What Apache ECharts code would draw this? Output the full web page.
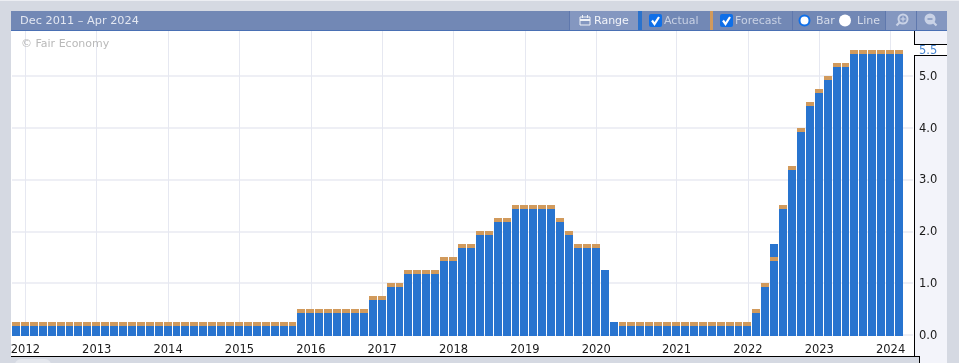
<!DOCTYPE html>
<html>
<head>
<meta charset="utf-8">
<style>
  html, body { margin: 0; padding: 0; background: #d5d9e2; }
  #chart { width: 959px; height: 363px; }
</style>
<script src="https://cdn.jsdelivr.net/npm/echarts@6/dist/echarts.min.js"></script>
</head>
<body>
<div id="chart"></div>
<script>
// fomc meetings, one bar per meeting
const meetings = [
  '2011-12',
  '2012-01','2012-03','2012-04','2012-06','2012-08','2012-09','2012-10','2012-12',
  '2013-01','2013-03','2013-05','2013-06','2013-07','2013-09','2013-10','2013-12',
  '2014-01','2014-03','2014-04','2014-06','2014-07','2014-09','2014-10','2014-12',
  '2015-01','2015-03','2015-04','2015-06','2015-07','2015-09','2015-10','2015-12',
  '2016-01','2016-03','2016-04','2016-06','2016-07','2016-09','2016-11','2016-12',
  '2017-02','2017-03','2017-05','2017-06','2017-07','2017-09','2017-11','2017-12',
  '2018-01','2018-03','2018-05','2018-06','2018-08','2018-09','2018-11','2018-12',
  '2019-01','2019-03','2019-05','2019-06','2019-07','2019-09','2019-10','2019-12',
  '2020-01','2020-03','2020-03','2020-04','2020-06','2020-07','2020-09','2020-11','2020-12',
  '2021-01','2021-03','2021-04','2021-06','2021-07','2021-09','2021-11','2021-12',
  '2022-01','2022-03','2022-05','2022-06','2022-07','2022-09','2022-11','2022-12',
  '2023-02','2023-03','2023-05','2023-06','2023-07','2023-09','2023-11','2023-12',
  '2024-01','2024-03',
  '' // empty slot before the axis panel
];

const actual = [
  0.25,
  0.25,0.25,0.25,0.25,0.25,0.25,0.25,0.25,
  0.25,0.25,0.25,0.25,0.25,0.25,0.25,0.25,
  0.25,0.25,0.25,0.25,0.25,0.25,0.25,0.25,
  0.25,0.25,0.25,0.25,0.25,0.25,0.25,0.5,
  0.5,0.5,0.5,0.5,0.5,0.5,0.5,0.75,
  0.75,1,1,1.25,1.25,1.25,1.25,1.5,
  1.5,1.75,1.75,2,2,2.25,2.25,2.5,
  2.5,2.5,2.5,2.5,2.25,2,1.75,1.75,
  1.75,1.25,0.25,0.25,0.25,0.25,0.25,0.25,0.25,
  0.25,0.25,0.25,0.25,0.25,0.25,0.25,0.25,
  0.25,0.5,1,1.75,2.5,3.25,4,4.5,
  4.75,5,5.25,5.25,5.5,5.5,5.5,5.5,
  5.5,5.5
];

const forecast = [
  0.25,
  0.25,0.25,0.25,0.25,0.25,0.25,0.25,0.25,
  0.25,0.25,0.25,0.25,0.25,0.25,0.25,0.25,
  0.25,0.25,0.25,0.25,0.25,0.25,0.25,0.25,
  0.25,0.25,0.25,0.25,0.25,0.25,0.25,0.5,
  0.5,0.5,0.5,0.5,0.5,0.5,0.5,0.75,
  0.75,1,1,1.25,1.25,1.25,1.25,1.5,
  1.5,1.75,1.75,2,2,2.25,2.25,2.5,
  2.5,2.5,2.5,2.5,2.25,2,1.75,1.75,
  1.75,null,null,0.25,0.25,0.25,0.25,0.25,0.25,
  0.25,0.25,0.25,0.25,0.25,0.25,0.25,0.25,
  0.25,0.5,1,1.5,2.5,3.25,4,4.5,
  4.75,5,5.25,5.25,5.5,5.5,5.5,5.5,
  5.5,5.5
];

const rangeLabel = 'Dec 2011 – Apr 2024';
const font = '"DejaVu Sans", sans-serif';
const barText = '#e3e7f1';

const chart = echarts.init(document.getElementById('chart'));

// first meeting of every year gets a label and a grid line
const isYearStart = (i) => {
  if (i === 0 || !meetings[i]) return false;
  return meetings[i].slice(0, 4) !== meetings[i - 1].slice(0, 4);
};

const rect = (x, y, width, height, fill, z, r) => ({
  type: 'rect', z: z, silent: true,
  shape: { x: x, y: y, width: width, height: height, r: r || 0 },
  style: { fill: fill }
});
const label = (x, text, fill, size) => ({
  type: 'text', z: 102, silent: true, x: x, y: 21,
  style: { text: text, fill: fill || barText, font: (size || 11) + 'px ' + font, textVerticalAlign: 'middle' }
});
const checkbox = (x) => ({
  type: 'group', z: 102, silent: true, x: x, y: 14,
  children: [
    { type: 'rect', z: 102, shape: { x: 0, y: 0, width: 13, height: 13, r: 2 }, style: { fill: '#0f6fe8' } },
    { type: 'polyline', z: 103, shape: { points: [[3, 6.5], [5.5, 10], [10, 3]] }, style: { fill: null, stroke: '#fff', lineWidth: 2.2 } }
  ]
});
const magnifier = (x, plus) => ({
  type: 'group', z: 102, silent: true, x: x, y: 19,
  children: [
    { type: 'circle', z: 102, shape: { cx: 0, cy: 0, r: 4.5 }, style: { fill: plus ? 'none' : '#c9d2e6', stroke: '#c9d2e6', lineWidth: 2 } },
    { type: 'line', z: 102, shape: { x1: plus ? -3 : 3, y1: 3, x2: plus ? -6.5 : 6.5, y2: 6.5 }, style: { stroke: '#c9d2e6', lineWidth: 2.2 } },
    { type: 'line', z: 103, shape: { x1: -2.5, y1: 0, x2: 2.5, y2: 0 }, style: { stroke: plus ? '#c9d2e6' : '#7288b5', lineWidth: 1.2 } },
    plus ? { type: 'line', z: 103, shape: { x1: 0, y1: -2.5, x2: 0, y2: 2.5 }, style: { stroke: '#c9d2e6', lineWidth: 1.2 } } : { type: 'group' }
  ]
});

const graphics = [
  // page frame and panels
  rect(0, 0, 959, 363, '#d5d9e2', -20),
  rect(0, 0, 959, 1, '#eceef3', -19),
  rect(11, 30, 904, 326, '#ffffff', -18),
  rect(15, 359, 36, 12, '#e4e7ed', -18, 6),
  rect(915, 30, 32, 333, '#f3f4fa', -18),
  rect(915, 45, 32, 10, '#ffffff', -17),
  rect(915, 356, 4, 7, '#d5d9e2', -17),
  // black outline round the axis panel
  rect(11, 356, 908, 1, '#000', -16),
  rect(914, 30, 1, 15, '#000', -16),
  rect(914, 55, 1, 302, '#000', -16),
  rect(914, 44, 33, 1, '#000', -16),
  rect(914, 55, 33, 1, '#000', -16),
  rect(919, 356, 1, 7, '#000', -16),
  // toolbar
  rect(11, 11, 936, 19, '#7288b5', 100),
  rect(11, 30, 936, 1, '#4a70b4', 100),
  rect(570, 11, 68, 19, '#8497c0', 100),
  rect(569, 11, 1, 19, '#5f78ad', 101),
  rect(638, 11, 4, 19, '#2a72cc', 101),
  rect(710, 11, 3, 19, '#d19a5c', 101),
  rect(792, 11, 1, 19, '#5f78ad', 101),
  rect(886, 11, 30, 19, '#8497c0', 100),
  rect(917, 11, 30, 19, '#8497c0', 100),
  rect(885, 11, 1, 19, '#5f78ad', 101),
  rect(916, 11, 1, 19, '#5f78ad', 101),
  label(20, rangeLabel, barText, 11.3),
  // calendar icon on the range button
  { type: 'rect', z: 102, silent: true, shape: { x: 580, y: 17, width: 10, height: 8 }, style: { fill: 'none', stroke: '#eef1f7', lineWidth: 1 } },
  rect(580, 19, 10, 2, '#eef1f7', 102),
  rect(582, 15, 1, 3, '#eef1f7', 102),
  rect(587, 15, 1, 3, '#eef1f7', 102),
  label(594, 'Range', '#f2f4f9'),
  checkbox(649),
  label(664, 'Actual', '#c8d1e4'),
  checkbox(720),
  label(735, 'Forecast', '#c8d1e4'),
  { type: 'circle', z: 102, silent: true, shape: { cx: 804.5, cy: 20.5, r: 5 }, style: { fill: '#fff', stroke: '#0f6fe8', lineWidth: 2 } },
  label(816, 'Bar', '#d5dbe9'),
  { type: 'circle', z: 102, silent: true, shape: { cx: 845, cy: 20.5, r: 6 }, style: { fill: '#fff' } },
  label(857, 'Line', '#d5dbe9'),
  magnifier(903, true),
  magnifier(930, false),
  // watermark
  { type: 'text', z: 10, silent: true, x: 21, y: 44,
    style: { text: '© Fair Economy', fill: '#b9b9b9', font: '11px ' + font, textVerticalAlign: 'middle' } }
];

// bar edges snapped to whole pixels, 1px gap between neighbours
const barEdges = (api, i) => {
  const band = api.size([1, 0])[0];
  const cx = api.coord([i, 0])[0];
  return { left: Math.round(cx - band / 2), right: Math.round(cx + band / 2) - 1 };
};

const renderActual = (params, api) => {
  const i = api.value(0);
  const e = barEdges(api, i);
  const top = Math.round(api.coord([i, api.value(1)])[1]);
  // bars run one pixel past the zero line
  const bottom = Math.round(api.coord([i, 0])[1]) + 1;
  return { type: 'rect', shape: { x: e.left, y: top, width: e.right - e.left, height: bottom - top }, style: { fill: '#2874cf' } };
};

// forecast is a 4px cap whose top edge sits on the forecast value
const renderForecast = (params, api) => {
  const i = api.value(0);
  const e = barEdges(api, i);
  const top = Math.round(api.coord([i, api.value(1)])[1]);
  return { type: 'rect', shape: { x: e.left, y: top, width: e.right - e.left, height: 4 }, style: { fill: '#d19a5c' } };
};

const option = {
  animation: false,
  backgroundColor: 'transparent',
  graphic: graphics,
  grid: { left: 12, right: 46.08, top: 30, bottom: 28 },
  xAxis: {
    type: 'category',
    data: meetings,
    axisLine: { show: false },
    axisTick: { show: false },
    axisLabel: {
      interval: (i) => isYearStart(i),
      formatter: (v) => v.slice(0, 4),
      color: '#1a1a1a',
      fontFamily: font,
      fontSize: 11.5,
      margin: 9.5,
      hideOverlap: false
    },
    splitLine: {
      show: true,
      alignWithLabel: true,
      interval: (i) => isYearStart(i),
      lineStyle: { color: '#e6e8f1', width: 1 }
    }
  },
  yAxis: {
    type: 'value',
    position: 'right',
    min: 0,
    max: 5.882,
    interval: 1,
    axisLine: { show: false },
    axisTick: { show: false },
    axisLabel: {
      showMaxLabel: false,
      formatter: (v) => v.toFixed(1),
      color: '#1a1a1a',
      fontFamily: font,
      fontSize: 11.5,
      margin: 6,
      // nudges the text a pixel below the grid line
      verticalAlign: 'top',
      lineHeight: 2
    },
    splitLine: { show: true, lineStyle: { color: '#e8eaf2', width: 1.5 } }
  },
  series: [
    {
      name: 'Actual',
      type: 'custom',
      renderItem: renderActual,
      encode: { x: 0, y: 1 },
      clip: false,
      data: actual.map((v, i) => [i, v]),
      markLine: {
        silent: true,
        symbol: 'none',
        animation: false,
        lineStyle: { color: 'transparent', width: 0 },
        data: [{ yAxis: actual[actual.length - 1] }],
        label: {
          show: true,
          position: 'end',
          distance: 6,
          verticalAlign: 'top',
          lineHeight: 2,
          formatter: (p) => p.value.toFixed(1),
          color: '#4a86d0',
          fontFamily: font,
          fontSize: 11.5
        }
      }
    },
    {
      name: 'Forecast',
      type: 'custom',
      renderItem: renderForecast,
      encode: { x: 0, y: 1 },
      z: 3,
      data: forecast.map((v, i) => (v === null ? [i, '-'] : [i, v]))
    }
  ]
};

chart.setOption(option);
</script>
</body>
</html>
